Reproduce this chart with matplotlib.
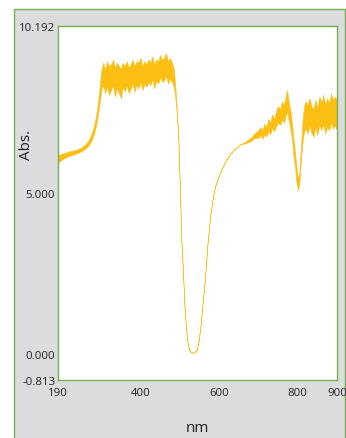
import numpy as np
import matplotlib.pyplot as plt
from matplotlib.patches import Rectangle

plt.rcParams['font.family'] = ['Open Sans', 'DejaVu Sans']

# absorbance spectrum: wavelength (nm), upper and lower edge of the trace
wl = [190, 205, 220, 235, 250, 260, 268, 276, 282, 287, 292, 297, 300,
      305, 310, 315, 320, 325, 330, 335, 340, 345, 350, 355, 360, 365,
      370, 375, 380, 385, 390, 395, 400, 405, 410, 415, 420, 425, 430,
      435, 440, 445, 450, 455, 460, 465, 470, 475, 480, 485, 488, 492,
      496, 500, 504, 508, 512, 516, 520, 525, 531, 537, 543, 548, 553,
      558, 564, 570, 577, 584, 590, 598, 607, 617, 628, 640, 653, 665,
      679, 690, 700, 705, 710, 715, 720, 725, 730, 735, 740, 745, 750,
      755, 760, 765, 770, 773, 777, 781, 785, 789, 793, 797, 801, 804,
      808, 812, 816, 820, 825, 830, 835, 840, 845, 850, 855, 860, 865,
      870, 875, 880, 885, 890, 895, 900]
abs_hi = [6.18, 6.24, 6.30, 6.34, 6.42, 6.52, 6.64, 6.87, 7.12, 7.42, 7.85, 8.40, 8.80,
          9.05, 8.85, 9.10, 8.95, 9.00, 9.15, 8.90, 9.05, 8.95, 8.85, 9.05, 8.95, 9.10,
          8.90, 9.00, 9.15, 8.95, 9.10, 9.05, 9.20, 8.95, 9.10, 9.00, 9.15, 9.05, 9.25,
          9.00, 9.15, 9.10, 9.30, 9.15, 9.20, 9.35, 9.10, 9.20, 9.05, 8.85, 8.40, 7.70,
          6.81, 5.21, 3.53, 2.56, 1.46, 0.77, 0.32, 0.11, 0.04, 0.07, 0.13, 0.42, 0.92,
          1.57, 2.37, 3.37, 4.27, 4.87, 5.22, 5.52, 5.78, 6.03, 6.23, 6.38, 6.52, 6.58,
          6.70, 6.85, 6.95, 7.05, 6.95, 7.15, 7.05, 7.30, 7.20, 7.45, 7.30, 7.55, 7.70,
          7.60, 7.85, 7.75, 8.05, 8.20, 7.85, 7.60, 7.20, 6.70, 6.30, 5.80, 5.45, 5.60,
          6.40, 7.20, 7.70, 7.85, 7.75, 7.95, 7.70, 7.60, 7.90, 7.65, 8.00, 7.80, 8.05,
          7.75, 7.95, 7.80, 8.10, 7.90, 8.00, 7.85]
abs_lo = [5.95, 6.08, 6.16, 6.22, 6.30, 6.38, 6.48, 6.65, 6.85, 7.10, 7.45, 7.90, 8.20,
          8.35, 8.10, 8.30, 8.05, 8.20, 8.35, 8.00, 8.25, 8.10, 7.95, 8.30, 8.15, 8.35,
          8.10, 8.25, 8.40, 8.15, 8.35, 8.25, 8.45, 8.20, 8.40, 8.30, 8.45, 8.35, 8.55,
          8.25, 8.50, 8.40, 8.60, 8.45, 8.50, 8.65, 8.40, 8.55, 8.45, 8.30, 8.00, 7.50,
          6.79, 5.19, 3.51, 2.54, 1.44, 0.75, 0.30, 0.09, 0.02, 0.05, 0.11, 0.40, 0.90,
          1.55, 2.35, 3.35, 4.25, 4.85, 5.20, 5.50, 5.76, 6.01, 6.21, 6.36, 6.50, 6.54,
          6.60, 6.70, 6.72, 6.80, 6.68, 6.82, 6.75, 6.92, 6.82, 7.02, 6.92, 7.08, 7.18,
          7.12, 7.28, 7.18, 7.42, 7.52, 7.28, 7.02, 6.68, 6.18, 5.82, 5.32, 5.08, 5.28,
          5.95, 6.55, 6.90, 7.00, 6.85, 7.10, 6.85, 6.75, 7.05, 6.80, 7.10, 6.95, 7.15,
          6.85, 7.05, 6.95, 7.20, 7.00, 7.10, 6.95]

x_ticks = [190, 400, 600, 800, 900]
y_ticks = [-0.813, 0.000, 5.000, 10.192]

gold = '#fbbf14'
green = '#74b04f'

fig = plt.figure(figsize=(3.46, 4.39), dpi=100)
fig.patch.set_facecolor('white')

# grey panel with green border behind the plot
fig.add_artist(Rectangle((13.5 / 346, -0.01), (345 - 13.5) / 346, 1 - 9.5 / 439 + 0.01,
                         transform=fig.transFigure, facecolor='#dcdcde',
                         edgecolor=green, linewidth=1.0, zorder=0))

ax = fig.add_axes([58 / 346, (439 - 381) / 439, 279 / 346, 354 / 439])
ax.set_facecolor('white')

ax.fill_between(wl, abs_lo, abs_hi, color=gold, linewidth=0.35, edgecolor=gold)

ax.set_xlim(190, 900)
ax.set_ylim(-0.813, 10.192)
ax.set_xticks(x_ticks)
ax.set_xticklabels([str(t) for t in x_ticks])
ax.set_yticks(y_ticks)
ax.set_yticklabels(['%.3f' % t for t in y_ticks])
ax.tick_params(length=0, labelsize=8.2, colors='#222222')
ax.tick_params(axis='y', pad=2)
ax.tick_params(axis='x', pad=5)

for s in ax.spines.values():
    s.set_color(green)
    s.set_linewidth(1.0)

ax.set_ylabel('Abs.', fontsize=11, color='#222222')
ax.yaxis.set_label_coords(-0.086, 0.667)
ax.set_xlabel('nm', fontsize=11, color='#222222')
ax.xaxis.set_label_coords(0.5, -0.113)

fig.savefig('out.png', dpi=100)
